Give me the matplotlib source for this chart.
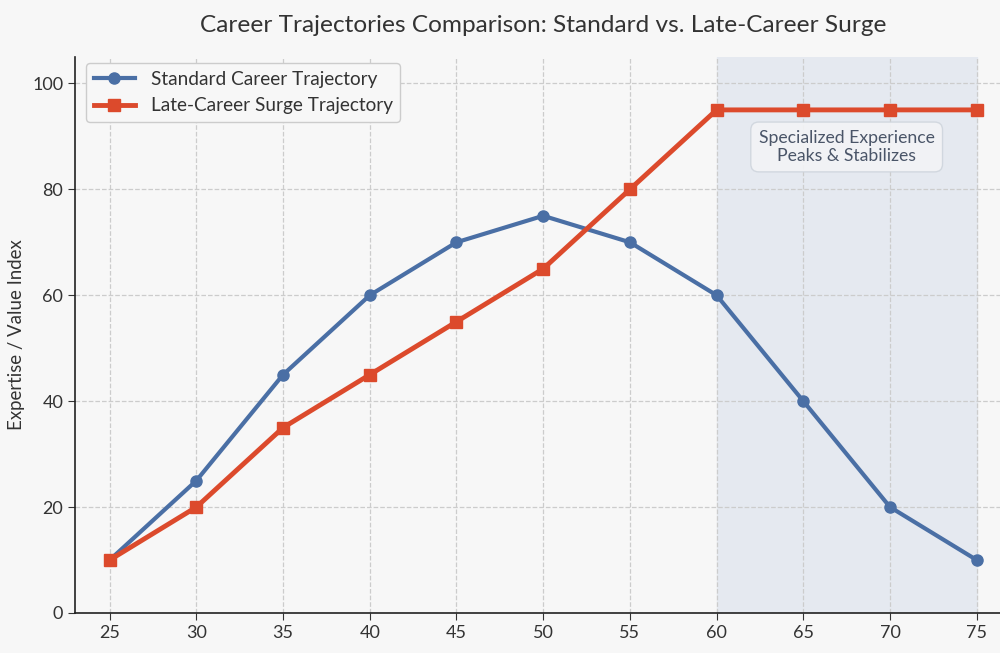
import matplotlib.pyplot as plt

ages = [25, 30, 35, 40, 45, 50, 55, 60, 65, 70, 75]
standard = [10, 25, 45, 60, 70, 75, 70, 60, 40, 20, 10]
late_surge = [10, 20, 35, 45, 55, 65, 80, 95, 95, 95, 95]
peak_span = (60, 75)

plt.rcParams['font.family'] = ['Lato', 'DejaVu Sans']
plt.rcParams['text.color'] = '#333333'

fig = plt.figure(figsize=(10, 6.53), dpi=100, facecolor='#f7f7f7')
ax = fig.add_axes([0.075, 0.0613, 0.9364, 0.8515])
ax.set_facecolor('#f7f7f7')

ax.axvspan(peak_span[0], peak_span[1], color='#e5e9f0', zorder=0)
ax.grid(True, linestyle='--', color='#cccccc', linewidth=0.9, zorder=1)

ax.plot(ages, standard, color='#4a6fa5', linewidth=3, marker='o', markersize=8,
        label='Standard Career Trajectory', zorder=3)
ax.plot(ages, late_surge, color='#dc4a2c', linewidth=3.5, marker='s', markersize=8,
        label='Late-Career Surge Trajectory', zorder=3)

ax.text(67.5, 88, 'Specialized Experience\nPeaks & Stabilizes', ha='center', va='center',
        fontsize=12.7, color='#4a5568', linespacing=1.15, zorder=4,
        bbox=dict(boxstyle='round,pad=0.45', facecolor='#f3f4f6', edgecolor='#cfd5dd', alpha=0.9))

ax.set_xlim(23, 77)
ax.set_ylim(0, 105)
ax.set_xticks(ages)
ax.set_yticks([0, 20, 40, 60, 80, 100])
ax.tick_params(labelsize=13, colors='#333333', length=5)

for side in ['top', 'right']:
    ax.spines[side].set_visible(False)
for side in ['left', 'bottom']:
    ax.spines[side].set_color('#222222')
    ax.spines[side].set_linewidth(1.2)

ax.set_ylabel('Expertise / Value Index', fontsize=13.4, color='#333333', labelpad=5)
ax.set_xlabel('Age', fontsize=13.4, color='#333333', labelpad=12)
ax.set_title('Career Trajectories Comparison: Standard vs. Late-Career Surge',
             fontsize=17.6, color='#333333', pad=18)

ax.legend(loc='upper left', fontsize=13.7, frameon=True, facecolor='#f7f7f7',
          edgecolor='#cccccc', framealpha=1, bbox_to_anchor=(0.0117, 0.989),
          borderaxespad=0, handlelength=2.2)

fig.savefig('out.png', dpi=100, facecolor=fig.get_facecolor())
